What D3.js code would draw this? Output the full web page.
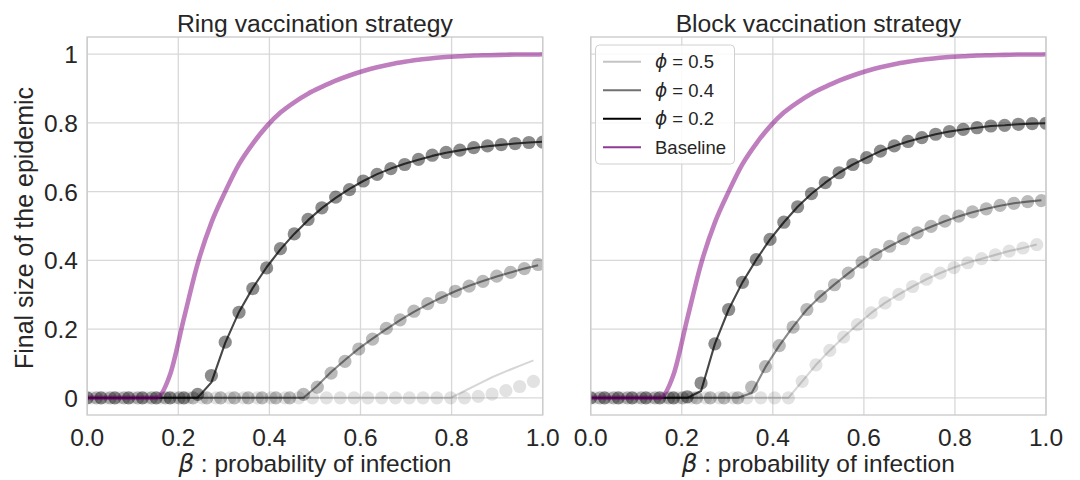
<!DOCTYPE html>
<html><head><meta charset="utf-8">
<script src="https://cdn.jsdelivr.net/npm/d3@7"></script>
<style>body{margin:0;background:#fff}</style>
</head><body><svg id="c" width="1080" height="480"></svg>
<script>
// ---- data ----
const beta = [0, 0.0303, 0.0606, 0.0909, 0.1212, 0.1515, 0.1818, 0.2121, 0.2424, 0.2727, 0.3030, 0.3333, 0.3636, 0.3939, 0.4242, 0.4545, 0.4848, 0.5152, 0.5455, 0.5758, 0.6061, 0.6364, 0.6667, 0.6970, 0.7273, 0.7576, 0.7879, 0.8182, 0.8485, 0.8788, 0.9091, 0.9394, 0.9697, 1.0];
const xTicks = [0, 0.2, 0.4, 0.6, 0.8, 1.0];
const xTickLabels = ["0.0", "0.2", "0.4", "0.6", "0.8", "1.0"];
const yTicks = [0, 0.2, 0.4, 0.6, 0.8, 1];
const yTickLabels = ["0", "0.2", "0.4", "0.6", "0.8", "1"];
const titles = ["Ring vaccination strategy", "Block vaccination strategy"];
const legendLabels = ["0.5", "0.4", "0.2", "Baseline"];
const phiDodge = [0.01, -0.01, 0]; // x offset of phi = 0.5, 0.4, 0.2 series

const baseline = [0,0,0,0,0,0,0.067,0.23,0.39,0.51,0.60,0.68,0.74,0.79,0.83,0.86,0.885,0.905,0.923,0.938,0.951,0.962,0.971,0.978,0.984,0.988,0.992,0.994,0.996,0.997,0.998,0.999,0.999,1.0];

const ringLine02 = [0,0,0,0,0,0,0,0,0,0.045,0.16,0.25,0.32,0.38,0.432,0.477,0.517,0.552,0.582,0.608,0.631,0.651,0.667,0.681,0.693,0.704,0.713,0.72,0.727,0.732,0.736,0.74,0.743,0.745];
const ringDots02 = [0,0,0,0,0,0,0,0,0.01,0.065,0.162,0.249,0.318,0.378,0.434,0.477,0.519,0.553,0.584,0.606,0.631,0.65,0.667,0.679,0.694,0.706,0.714,0.721,0.728,0.733,0.737,0.74,0.743,0.744];
const ringLine04 = [0,0,0,0,0,0,0,0,0,0,0,0,0,0,0,0,0,0.035,0.075,0.11,0.143,0.172,0.2,0.226,0.25,0.272,0.292,0.31,0.326,0.34,0.353,0.365,0.376,0.386];
const ringDots04 = [0,0,0,0,0,0,0,0,0,0,0,0,0,0,0,0,0.01,0.031,0.072,0.106,0.142,0.171,0.202,0.227,0.252,0.274,0.292,0.31,0.325,0.339,0.354,0.365,0.376,0.388];
const ringLine05 = [0,0,0,0,0,0,0,0,0,0,0,0,0,0,0,0,0,0,0,0,0,0,0,0,0,0,0,0.02,0.04,0.06,0.077,0.093,0.109];
const ringDots05 = [0,0,0,0,0,0,0,0,0,0,0,0,0,0,0,0,0,0,0,0,0,0,0,0,0,0,0,0,0.004,0.011,0.021,0.033,0.048];

const blockLine02 = [0,0,0,0,0,0,0,0,0.02,0.157,0.257,0.336,0.402,0.461,0.511,0.556,0.594,0.626,0.655,0.679,0.699,0.718,0.733,0.746,0.757,0.767,0.775,0.781,0.786,0.791,0.793,0.796,0.798,0.799];
const blockDots02 = [0,0,0,0,0,0,0,0.003,0.043,0.157,0.257,0.336,0.402,0.461,0.511,0.556,0.594,0.626,0.655,0.679,0.699,0.718,0.733,0.746,0.757,0.767,0.775,0.781,0.786,0.791,0.793,0.796,0.798,0.799];
const blockLine04 = [0,0,0,0,0,0,0,0,0,0,0,0,0.014,0.09,0.152,0.207,0.257,0.296,0.33,0.362,0.393,0.418,0.441,0.462,0.481,0.498,0.514,0.528,0.54,0.55,0.559,0.566,0.571,0.575];
const blockDots04 = [0,0,0,0,0,0,0,0,0,0,0,0,0.031,0.091,0.152,0.206,0.257,0.295,0.329,0.363,0.395,0.417,0.441,0.463,0.48,0.499,0.514,0.529,0.541,0.55,0.56,0.566,0.571,0.574];
const blockLine05 = [0,0,0,0,0,0,0,0,0,0,0,0,0,0,0,0.048,0.096,0.138,0.177,0.213,0.247,0.276,0.301,0.324,0.345,0.363,0.379,0.393,0.405,0.416,0.427,0.436,0.446];
const blockDots05 = [0,0,0,0,0,0,0,0,0,0,0,0,0,0,0,0.048,0.096,0.138,0.177,0.213,0.247,0.276,0.301,0.324,0.345,0.363,0.379,0.393,0.405,0.416,0.427,0.436,0.446];

// ---- styles ----
const FONT = "'Liberation Sans', Arial, Helvetica, sans-serif";
const MATH = "'DejaVu Sans', sans-serif";
const seriesStyle = [
  {lineOp: 0.16, dotOp: 0.115, legend: "#c4c4c4"},  // phi 0.5
  {lineOp: 0.46, dotOp: 0.27,  legend: "#707070"},  // phi 0.4
  {lineOp: 0.72, dotOp: 0.45,  legend: "#000000"}   // phi 0.2
];
const purple = "#800080";

const svg = d3.select("#c");
const plotTop = 37, plotBottom = 415;
const y = d3.scaleLinear().domain([-0.05, 1.05]).range([plotBottom, plotTop]);

const panels = [
  {x0: 87.2, x1: 542.7, title: titles[0], lines: [ringLine05, ringLine04, ringLine02], dots: [ringDots05, ringDots04, ringDots02], yLabels: true, legend: false},
  {x0: 590.7, x1: 1046, title: titles[1], lines: [blockLine05, blockLine04, blockLine02], dots: [blockDots05, blockDots04, blockDots02], yLabels: false, legend: true}
];

panels.forEach((p, pi) => {
  const x = d3.scaleLinear().domain([0, 1]).range([p.x0, p.x1]);
  const g = svg.append("g");
  const clipId = "clip" + pi;
  svg.append("clipPath").attr("id", clipId).append("rect")
    .attr("x", p.x0).attr("y", plotTop).attr("width", p.x1 - p.x0).attr("height", plotBottom - plotTop);

  // grid
  g.selectAll(".vg").data(xTicks).join("line")
    .attr("x1", d => x(d)).attr("x2", d => x(d)).attr("y1", plotTop).attr("y2", plotBottom)
    .attr("stroke", "#d8d8d8").attr("stroke-width", 1.3);
  g.selectAll(".hg").data(yTicks).join("line")
    .attr("x1", p.x0).attr("x2", p.x1).attr("y1", d => y(d)).attr("y2", d => y(d))
    .attr("stroke", "#d8d8d8").attr("stroke-width", 1.3);

  const plot = g.append("g").attr("clip-path", `url(#${clipId})`);
  // phi series: dots then line
  [0, 1, 2].forEach(si => {
    const st = seriesStyle[si];
    const dx = phiDodge[si];
    const dots = p.dots[si];
    plot.append("g").selectAll("circle").data(dots).join("circle")
      .attr("cx", (d, i) => x(beta[i] + dx)).attr("cy", d => y(d)).attr("r", 6.6)
      .attr("fill", "#000").attr("fill-opacity", st.dotOp);
    const ln = p.lines[si];
    plot.append("path").datum(ln)
      .attr("d", d3.line().x((d, i) => x(beta[i] + dx)).y(d => y(d)))
      .attr("fill", "none").attr("stroke", "#000").attr("stroke-opacity", st.lineOp)
      .attr("stroke-width", 2.1).attr("stroke-linejoin", "round");
  });
  plot.append("path").datum(baseline)
    .attr("d", d3.line().x((d, i) => x(beta[i])).y(d => y(d)).curve(d3.curveMonotoneX))
    .attr("fill", "none").attr("stroke", purple).attr("stroke-opacity", 0.5)
    .attr("stroke-width", 4.6).attr("stroke-linejoin", "round");

  // frame
  g.append("rect").attr("x", p.x0).attr("y", plotTop).attr("width", p.x1 - p.x0).attr("height", plotBottom - plotTop)
    .attr("fill", "none").attr("stroke", "#cccccc").attr("stroke-width", 1.4);

  // x tick labels
  g.selectAll(".xt").data(xTicks).join("text")
    .attr("x", d => x(d)).attr("y", 446).attr("text-anchor", "middle")
    .attr("font-family", FONT).attr("font-size", 24.5).attr("fill", "#262626")
    .text((d, i) => xTickLabels[i]);
  if (p.yLabels) {
    g.selectAll(".yt").data(yTicks).join("text")
      .attr("x", 78).attr("y", d => y(d) + 9).attr("text-anchor", "end")
      .attr("font-family", FONT).attr("font-size", 24.5).attr("fill", "#262626")
      .text((d, i) => yTickLabels[i]);
    g.append("text").attr("transform", `translate(33,228) rotate(-90)`)
      .attr("text-anchor", "middle").attr("font-family", FONT).attr("font-size", 25).attr("fill", "#262626")
      .text("Final size of the epidemic");
  }
  // title
  g.append("text").attr("x", (p.x0 + p.x1) / 2).attr("y", 31.5).attr("text-anchor", "middle")
    .attr("font-family", FONT).attr("font-size", 24.7).attr("fill", "#262626").text(p.title);
  // x label
  const xl = g.append("text").attr("x", (p.x0 + p.x1) / 2).attr("y", 472).attr("text-anchor", "middle")
    .attr("font-family", FONT).attr("font-size", 24.5).attr("fill", "#262626");
  xl.append("tspan").attr("font-family", MATH).attr("font-style", "italic").text("β");
  xl.append("tspan").text(" : probability of infection");

  if (p.legend) {
    const lg = g.append("g");
    lg.append("rect").attr("x", 595.5).attr("y", 45).attr("width", 139).attr("height", 119).attr("rx", 4)
      .attr("fill", "#fff").attr("fill-opacity", 0.85).attr("stroke", "#d0d0d0").attr("stroke-width", 1);
    const rowY = d3.scaleLinear().domain([0, 3]).range([61.7, 147.3]);
    const handleColors = [seriesStyle[0].legend, seriesStyle[1].legend, seriesStyle[2].legend, "#8e3a96"];
    legendLabels.forEach((lab, i) => {
      lg.append("line").attr("x1", 603).attr("x2", 641).attr("y1", rowY(i)).attr("y2", rowY(i))
        .attr("stroke", handleColors[i]).attr("stroke-width", 2);
      const t = lg.append("text").attr("x", 655).attr("y", rowY(i) + 6.5)
        .attr("font-family", FONT).attr("font-size", 18.5).attr("fill", "#262626");
      if (i < 3) {
        t.append("tspan").attr("font-family", MATH).attr("font-style", "italic").text("ϕ");
        t.append("tspan").text(" = " + lab);
      } else {
        t.text(lab);
      }
    });
  }
});
</script></body></html>
